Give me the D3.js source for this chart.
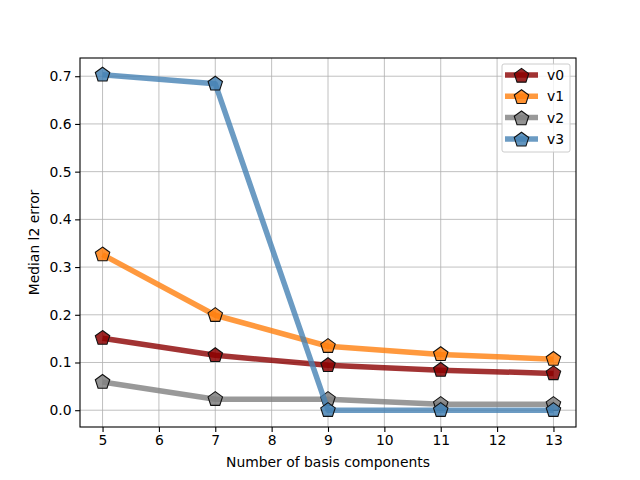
<!DOCTYPE html>
<html>
<head>
<meta charset="utf-8">
<script src="https://cdn.jsdelivr.net/npm/d3@7"></script>
<style>
  body { margin: 0; background: #fff; }
  text { font-family: "DejaVu Sans", sans-serif; }
</style>
</head>
<body>
<div id="chart"></div>
<script>
// values
const components = [5, 7, 9, 11, 13];
const v0 = [0.151, 0.115, 0.094, 0.084, 0.077];
const v1 = [0.326, 0.199, 0.134, 0.117, 0.107];
const v2 = [0.059, 0.023, 0.023, 0.0125, 0.0125];
const v3 = [0.703, 0.684, 0.0, 0.0, 0.0];
const seriesNames = ['v0', 'v1', 'v2', 'v3'];
const seriesColors = ['#8b0000', '#ff7f0e', '#808080', '#4682b4'];
const xTicks = [5, 6, 7, 8, 9, 10, 11, 12, 13];
const yTicks = [0, 0.1, 0.2, 0.3, 0.4, 0.5, 0.6, 0.7];

const series = [v0, v1, v2, v3].map((values, i) => ({
  name: seriesNames[i],
  color: seriesColors[i],
  points: values.map((v, j) => [components[j], v]),
}));

const width = 640;
const height = 480;
const margin = { top: 58, right: 64, bottom: 53, left: 80 };
const fontSize = 13.9;

const svg = d3.select('#chart')
  .append('svg')
  .attr('width', width)
  .attr('height', height);

const x = d3.scaleLinear()
  .domain([4.6, 13.4])
  .range([margin.left, width - margin.right]);

const y = d3.scaleLinear()
  .domain([-0.0352, 0.7382])
  .range([height - margin.bottom, margin.top]);

// pentagon marker, point up
function pentagon(r) {
  const pts = d3.range(5).map((k) => {
    const a = -Math.PI / 2 + k * 2 * Math.PI / 5;
    return [r * Math.cos(a), r * Math.sin(a)];
  });
  return `M${pts.map(p => p.join(',')).join('L')}Z`;
}
const markerPath = pentagon(7.6);

// grid
const grid = svg.append('g').attr('stroke', '#b0b0b0').attr('stroke-width', 0.8);
grid.selectAll('.gx').data(xTicks).enter().append('line')
  .attr('x1', d => x(d)).attr('x2', d => x(d))
  .attr('y1', margin.top).attr('y2', height - margin.bottom);
grid.selectAll('.gy').data(yTicks).enter().append('line')
  .attr('y1', d => y(d)).attr('y2', d => y(d))
  .attr('x1', margin.left).attr('x2', width - margin.right);

// axes
const xAxis = svg.append('g')
  .attr('transform', `translate(0,${height - margin.bottom})`)
  .call(d3.axisBottom(x).tickValues(xTicks).tickFormat(d3.format('d')).tickSize(4.9).tickPadding(3.5));
const yAxis = svg.append('g')
  .attr('transform', `translate(${margin.left},0)`)
  .call(d3.axisLeft(y).tickValues(yTicks).tickFormat(d3.format('.1f')).tickSize(4.9).tickPadding(3.5));

[xAxis, yAxis].forEach((ax) => {
  ax.select('.domain').remove();
  ax.selectAll('text').attr('font-size', fontSize).attr('fill', '#000')
    .style('font-family', '"DejaVu Sans", sans-serif');
  ax.selectAll('line').attr('stroke', '#000').attr('stroke-width', 1.1);
});

const line = d3.line().x(d => x(d[0])).y(d => y(d[1]));

const groups = svg.append('g').selectAll('g')
  .data(series)
  .enter()
  .append('g');

groups.append('path')
  .attr('d', d => line(d.points))
  .attr('fill', 'none')
  .attr('stroke', d => d.color)
  .attr('stroke-opacity', 0.8)
  .attr('stroke-width', 5.5)
  .attr('stroke-linejoin', 'round');

groups.selectAll('path.m')
  .data(d => d.points.map(p => ({ p, color: d.color })))
  .enter()
  .append('path')
  .attr('class', 'm')
  .attr('d', markerPath)
  .attr('transform', d => `translate(${x(d.p[0])},${y(d.p[1])})`)
  .attr('fill', d => d.color)
  .attr('fill-opacity', 0.85)
  .attr('stroke', '#111')
  .attr('stroke-width', 1.1);

// frame
svg.append('rect')
  .attr('x', margin.left).attr('y', margin.top)
  .attr('width', width - margin.left - margin.right)
  .attr('height', height - margin.top - margin.bottom)
  .attr('fill', 'none').attr('stroke', '#000').attr('stroke-width', 1.1);

// axis labels
svg.append('text')
  .attr('x', (margin.left + width - margin.right) / 2)
  .attr('y', 467)
  .attr('text-anchor', 'middle')
  .attr('font-size', fontSize)
  .text('Number of basis components');

svg.append('text')
  .attr('transform', `translate(39,${(margin.top + height - margin.bottom) / 2}) rotate(-90)`)
  .attr('text-anchor', 'middle')
  .attr('font-size', fontSize)
  .text('Median l2 error');

// legend
const legend = svg.append('g').attr('transform', 'translate(502,64)');
legend.append('rect')
  .attr('width', 68).attr('height', 88).attr('rx', 2)
  .attr('fill', '#fff').attr('fill-opacity', 0.8)
  .attr('stroke', '#ccc').attr('stroke-width', 1);

const items = legend.selectAll('g.item')
  .data(series)
  .enter()
  .append('g')
  .attr('transform', (d, i) => `translate(0,${11 + i * 21.3})`);

items.append('line')
  .attr('x1', 3).attr('x2', 36)
  .attr('stroke', d => d.color).attr('stroke-opacity', 0.8).attr('stroke-width', 5.5);
items.append('path')
  .attr('d', markerPath)
  .attr('transform', 'translate(19.5,1)')
  .attr('fill', d => d.color).attr('fill-opacity', 0.85)
  .attr('stroke', '#111').attr('stroke-width', 1.1);
items.append('text')
  .attr('x', 45).attr('y', 5)
  .attr('font-size', fontSize)
  .text(d => d.name);
</script>
</body>
</html>
